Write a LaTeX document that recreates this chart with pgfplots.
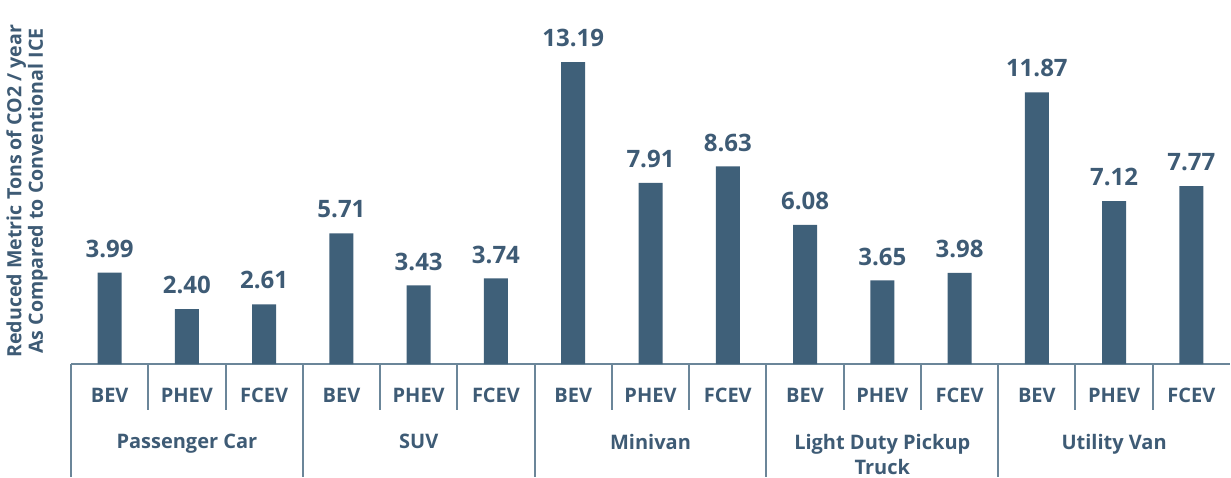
\documentclass[border=0pt]{standalone}
\usepackage{pgfplots}
\pgfplotsset{compat=1.18}
\usepackage{fontspec}
\setmainfont{Open Sans}
\definecolor{barblue}{HTML}{3F6079}
\definecolor{txtblue}{HTML}{3E5B75}
\definecolor{linegray}{HTML}{6B8699}

\begin{document}
\begin{tikzpicture}
\path[use as bounding box] (-35.5pt,-56.5pt) rectangle (580pt,182pt);
\begin{axis}[
    at={(0,0)}, anchor=south west,
    scale only axis,
    width=579.5pt, height=182pt,
    xmin=-0.5, xmax=14.5,
    ymin=0, ymax=15.9,
    hide y axis,
    axis x line*=bottom,
    x axis line style={linegray, line width=1pt},
    xtick={0,...,14},
    xticklabels={BEV,PHEV,FCEV,BEV,PHEV,FCEV,BEV,PHEV,FCEV,BEV,PHEV,FCEV,BEV,PHEV,FCEV},
    major tick length=0pt,
    xticklabel style={font=\bfseries\fontsize{10}{12}\selectfont, text=txtblue,
        anchor=base, yshift=-19pt, inner sep=0pt},
    clip=false,
    ybar, bar width=12pt,
    /pgf/number format/assume math mode=true,
    nodes near coords={\pgfmathprintnumber[fixed,fixed zerofill,precision=2]{\pgfplotspointmeta}},
    every node near coord/.append style={font=\bfseries\fontsize{12}{14}\selectfont,
        text=txtblue, yshift=4pt},
]
\addplot[fill=barblue, draw=none] coordinates {
    (0,3.99) (1,2.40) (2,2.61)
    (3,5.71) (4,3.43) (5,3.74)
    (6,13.19) (7,7.91) (8,8.63)
    (9,6.08) (10,3.65) (11,3.98)
    (12,11.87) (13,7.12) (14,7.77)
};
% short separators between sub-categories
\foreach \k in {0.5,1.5,3.5,4.5,6.5,7.5,9.5,10.5,12.5,13.5}
    {\edef\tmp{\noexpand\draw[linegray, line width=1pt] (axis cs:\k,0) -- ++(0pt,-23pt);}\tmp}
% long separators between groups
\foreach \k in {-0.5,2.5,5.5,8.5,11.5}
    {\edef\tmp{\noexpand\draw[linegray, line width=1pt] (axis cs:\k,0) -- ++(0pt,-56.5pt);}\tmp}
% group labels
\tikzset{grp/.style={font=\bfseries\fontsize{10}{12.5}\selectfont, text=txtblue,
    anchor=north, inner sep=0pt, align=center, yshift=-35pt}}
\node[grp] at (axis cs:1,0) {Passenger Car};
\node[grp] at (axis cs:4,0) {SUV};
\node[grp] at (axis cs:7,0) {Minivan};
\node[grp] at (axis cs:10,0) {Light Duty Pickup\\Truck};
\node[grp] at (axis cs:13,0) {Utility Van};
% y label
\node[font=\bfseries\fontsize{9.8}{9.3}\selectfont, text=txtblue, rotate=90, align=center]
    at ([xshift=-22pt]axis description cs:0,0.475)
    {Reduced Metric Tons of CO2 / year\\As Compared to Conventional ICE};
\end{axis}
\end{tikzpicture}
\end{document}
